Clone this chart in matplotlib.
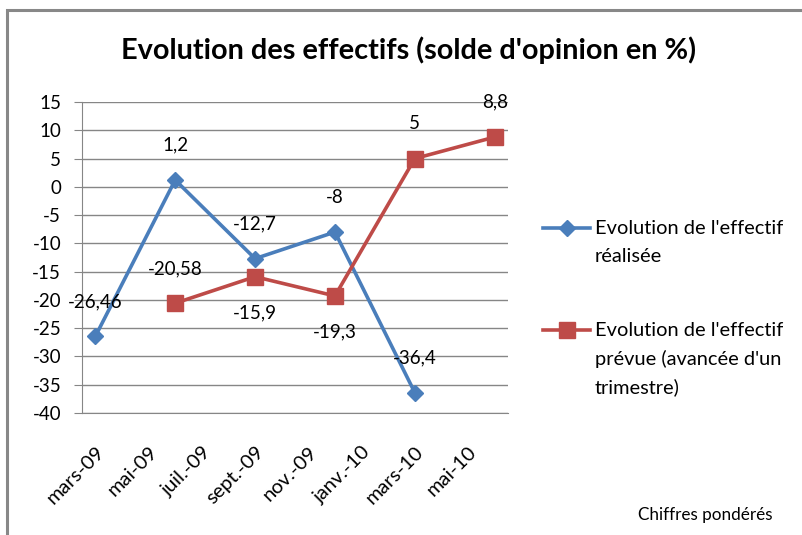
import matplotlib
matplotlib.use("Agg")
import matplotlib.pyplot as plt
from matplotlib.patches import Rectangle
from matplotlib.lines import Line2D

# ---- data ----
tick_labels = ["mars-09", "mai-09", "juil.-09", "sept.-09", "nov.-09", "janv.-10", "mars-10", "mai-10"]
tick_months = [0, 2, 4, 6, 8, 10, 12, 14]  # months since mars-09

realisee_months = [0, 3, 6, 9, 12]
realisee_values = [-26.46, 1.2, -12.7, -8, -36.4]

prevue_months = [3, 6, 9, 12, 15]
prevue_values = [-20.58, -15.9, -19.3, 5, 8.8]

realisee_label_pos = ["above", "above", "above", "above", "above"]
prevue_label_pos = ["above", "below", "below", "above", "above"]

title = "Evolution des effectifs (solde d'opinion en %)"
label_realisee = ["Evolution de l'effectif", "réalisée"]
label_prevue = ["Evolution de l'effectif", "prévue (avancée d'un", "trimestre)"]
footnote = "Chiffres pondérés"

blue = "#4A7EBB"
red = "#BE4B48"
grid_c = "#868686"

plt.rcParams['font.family'] = ['Lato', 'DejaVu Sans']

fig = plt.figure(figsize=(8.03, 5.35), dpi=100)
ax = fig.add_axes([82/803, 1 - 413/535, (508-82)/803, (413-102)/535])

ax.plot(realisee_months, realisee_values, color=blue, lw=2.6, marker='D', ms=8,
        markeredgecolor=blue, markerfacecolor=blue, zorder=3)
ax.plot(prevue_months, prevue_values, color=red, lw=2.6, marker='s', ms=11,
        markeredgecolor=red, markerfacecolor=red, zorder=3)

def fmt(v):
    return ("%g" % v).replace('.', ',')

for xs, ys, poss in [(realisee_months, realisee_values, realisee_label_pos),
                     (prevue_months, prevue_values, prevue_label_pos)]:
    for x, y, p in zip(xs, ys, poss):
        dy = 25 if p == "above" else -26
        ax.annotate(fmt(y), (x, y), xytext=(0, dy), textcoords='offset points',
                    ha='center', va='center', fontsize=13.5, color='black', zorder=4)

ax.set_xlim(-0.5, 15.5)
ax.set_ylim(-40, 15)
ax.set_yticks(range(-40, 16, 5))
ax.set_yticklabels([str(v) for v in range(-40, 16, 5)], fontsize=13.5)
ax.set_xticks(tick_months)
ax.set_xticklabels(tick_labels, rotation=45, ha='right', rotation_mode='anchor', fontsize=14.5)
ax.tick_params(axis='x', length=0, pad=22)
ax.tick_params(axis='y', length=6, color=grid_c, pad=9)
ax.yaxis.grid(True, color=grid_c, lw=1)
ax.set_axisbelow(True)
for s in ['top', 'right']:
    ax.spines[s].set_visible(False)
ax.spines['left'].set_color(grid_c)
ax.spines['bottom'].set_color(grid_c)

fig.text(409/803, 1 - 50/535, title, ha='center', va='center', fontsize=20.8, fontweight='bold')

# legend (manual, handle aligned with first text line as in the reference)
def fy(py):
    return 1 - py / 535

def fx(px):
    return px / 803

legend_entries = [(blue, 'D', 8, label_realisee, 228),
                  (red, 's', 11, label_prevue, 330)]
for color, mk, ms, lines, ytop in legend_entries:
    fig.add_artist(Line2D([fx(543), fx(590)], [fy(ytop), fy(ytop)], color=color, lw=2.6,
                          transform=fig.transFigure))
    fig.add_artist(Line2D([fx(566.5)], [fy(ytop)], color=color, marker=mk, ms=ms,
                          transform=fig.transFigure))
    for i, line in enumerate(lines):
        fig.text(fx(595), fy(ytop + 28.8 * i), line, ha='left', va='center', fontsize=14.4)

fig.text(773/803, 1 - 515/535, footnote, ha='right', va='center', fontsize=12.3)

# outer frame (top & left visible)
fig.patches.append(Rectangle((7/803, -0.1), 1.2, (1 - 10/535) + 0.1, transform=fig.transFigure,
                             fill=False, edgecolor='#888888', lw=2.2))

fig.savefig("out.png", dpi=100)
